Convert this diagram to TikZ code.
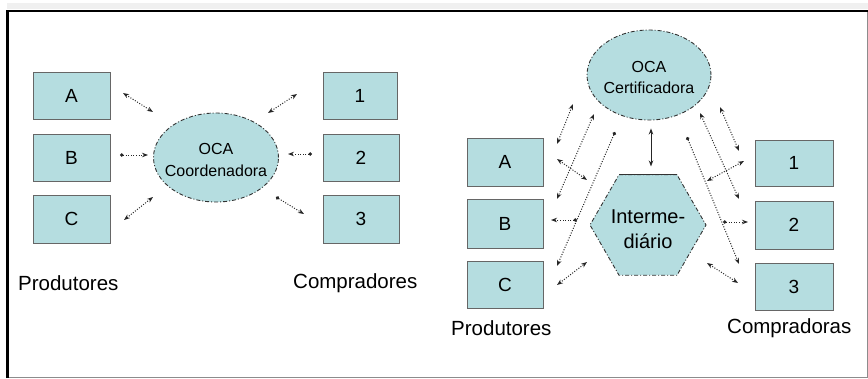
\documentclass[tikz,border=0pt]{standalone}
\usepackage{fontspec}
\setmainfont{Liberation Sans}
\usetikzlibrary{shapes.geometric,arrows.meta}
\definecolor{boxfill}{RGB}{181,221,224}
\definecolor{edge}{RGB}{50,50,50}
\tikzset{
  pbox/.style={fill=boxfill,draw=black!60,line width=0.8pt,inner sep=0pt},
  boxtxt/.style={font=\fontsize{19}{22}\selectfont},
  lbl/.style={anchor=west,inner sep=0pt,font=\fontsize{20.5}{24}\selectfont},
  oval/.style={ellipse,fill=boxfill,draw=edge,line width=0.9pt,dash pattern=on 4pt off 2pt on 1pt off 2pt,inner sep=0pt},
  ovaltxt/.style={align=center,inner sep=0pt,font=\fontsize{16}{21.5}\selectfont},
  conn/.style={draw=black!85,line width=1pt,dash pattern=on 1pt off 1.6pt},
  bi/.style={conn,{Stealth[length=6pt,width=4.5pt]}-{Stealth[length=6pt,width=4.5pt]}},
  di/.style={conn,{Circle[length=3.5pt,sep=0pt]}-{Stealth[length=6pt,width=4.5pt]}},
}
\begin{document}
\begin{tikzpicture}[x=1pt,y=-1pt]
\useasboundingbox (0,0) rectangle (868,378);
% frame
\fill[black!6] (7,3) rectangle (868,9);
\draw[black!45,line width=1pt] (7,377) -- (867.5,377) -- (867.5,11);
\draw[black,line width=2.5pt] (7.5,378) -- (7.5,11) -- (868,11);

% ---------- left diagram ----------
\node[pbox,minimum width=77pt,minimum height=47pt] (lA) at (71.5,95.5) {};
\node[pbox,minimum width=77pt,minimum height=47pt] (lB) at (71.5,157.5) {};
\node[pbox,minimum width=77pt,minimum height=48pt] (lC) at (71.5,219) {};
\node[pbox,minimum width=74pt,minimum height=47pt] (l1) at (360,95.5) {};
\node[pbox,minimum width=76pt,minimum height=47pt] (l2) at (361,157.5) {};
\node[pbox,minimum width=76pt,minimum height=48pt] (l3) at (361,219) {};
\node[boxtxt] at (lA) {A};
\node[boxtxt] at (lB) {B};
\node[boxtxt] at (lC) {C};
\node[boxtxt] at (l1) {1};
\node[boxtxt] at (l2) {2};
\node[boxtxt] at (l3) {3};
\node[oval,minimum width=125pt,minimum height=89pt] (coord) at (216,157.5) {};
\node[ovaltxt] at (216,160) {OCA\\Coordenadora};
\node[lbl] (lprod) at (18,283) {Produtores};
\node[lbl] (lcomp) at (293,283) {Compradores};

\coordinate (a1) at (123,93);  \coordinate (a2) at (153,112);
\coordinate (b1) at (120,155); \coordinate (b2) at (148,155);
\coordinate (c1) at (124,220); \coordinate (c2) at (153,197);
\coordinate (n1) at (297,94);  \coordinate (n2) at (268,113);
\coordinate (m1) at (312,154); \coordinate (m2) at (288,154);
\coordinate (k1) at (276,197); \coordinate (k2) at (304,214);
\draw[bi] (a1) -- (a2);
\draw[di] (b1) -- (b2);
\draw[bi] (c1) -- (c2);
\draw[bi] (n1) -- (n2);
\draw[di] (m1) -- (m2);
\draw[di] (k1) -- (k2);

% ---------- right diagram ----------
\node[pbox,minimum width=76pt,minimum height=48pt] (rA) at (505,162) {};
\node[pbox,minimum width=76pt,minimum height=49pt] (rB) at (505,223.5) {};
\node[pbox,minimum width=76pt,minimum height=47pt] (rC) at (505,284.5) {};
\node[pbox,minimum width=78pt,minimum height=46pt] (r1) at (794,163) {};
\node[pbox,minimum width=78pt,minimum height=48pt] (r2) at (794,225) {};
\node[pbox,minimum width=78pt,minimum height=47pt] (r3) at (794,286.5) {};
\node[boxtxt] at (rA) {A};
\node[boxtxt] at (rB) {B};
\node[boxtxt] at (rC) {C};
\node[boxtxt] at (r1) {1};
\node[boxtxt] at (r2) {2};
\node[boxtxt] at (r3) {3};
\node[oval,minimum width=124pt,minimum height=90pt] (cert) at (649,75) {};
\node[ovaltxt] at (649,77.5) {OCA\\Certificadora};
\node[regular polygon,regular polygon sides=6,minimum size=116pt,inner sep=0pt,
      fill=boxfill,draw=edge,line width=0.9pt,dash pattern=on 4pt off 2pt on 1pt off 2pt] (hex) at (648,225) {};
\draw[edge,line width=1pt] (hex.corner 1) -- (hex.corner 2);
\node[align=center,inner sep=0pt,font=\fontsize{20}{25}\selectfont] at (648,229) {Interme-\\diário};
\node[lbl] (rprod) at (451,328) {Produtores};
\node[lbl] (rcomp) at (727,328) {Compradoras};

\draw[line width=1pt,black!85,{Stealth[length=6pt,width=4.5pt]}-{Stealth[length=6pt,width=4.5pt]}] (cert.south) ++(2,8) coordinate (v1) -- ++(0,38) coordinate (v2);

\coordinate (p1) at (557,159); \coordinate (p2) at (587,180);
\coordinate (q1) at (551,220); \coordinate (q2) at (577,220);
\coordinate (s1) at (557,285); \coordinate (s2) at (587,262);
\coordinate (e1) at (573,104); \coordinate (e2) at (557,144);
\coordinate (f1) at (594,114); \coordinate (f2) at (557,199);
\coordinate (g1) at (615,132); \coordinate (g2) at (557,266);
\coordinate (h1) at (720,107); \coordinate (h2) at (739,151);
\coordinate (i1) at (700,113); \coordinate (i2) at (739,199);
\coordinate (j1) at (687,137); \coordinate (j2) at (739,264);
\coordinate (t1) at (744,161); \coordinate (t2) at (707,181);
\coordinate (u1) at (723,222); \coordinate (u2) at (748,222);
\coordinate (w1) at (707,263); \coordinate (w2) at (738,283);
\draw[bi] (p2) -- (p1);
\draw[di] (q2) -- (q1);
\draw[bi] (s1) -- (s2);
\draw[bi] (e1) -- (e2);
\draw[bi] (f1) -- (f2);
\draw[di] (g1) -- (g2);
\draw[bi] (h1) -- (h2);
\draw[bi] (i1) -- (i2);
\draw[di] (j1) -- (j2);
\draw[bi] (t1) -- (t2);
\draw[di] (u1) -- (u2);
\draw[bi] (w1) -- (w2);
\end{tikzpicture}
\end{document}
